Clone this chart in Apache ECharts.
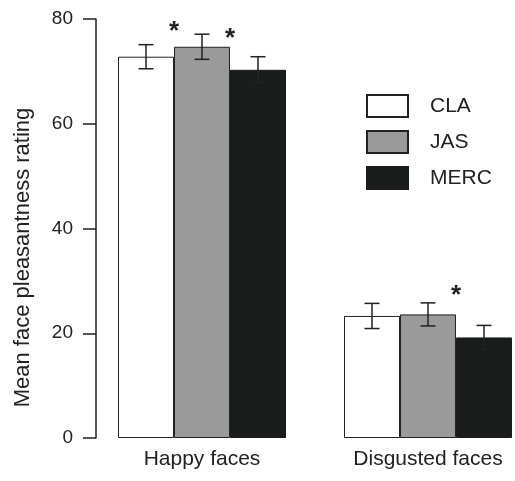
<!DOCTYPE html>
<html>
<head>
<meta charset="utf-8">
<script src="https://cdn.jsdelivr.net/npm/echarts@6/dist/echarts.min.js"></script>
<style>
  html, body { margin: 0; padding: 0; background: #fff; }
  #chart { width: 515px; height: 481px; }
</style>
</head>
<body>
<div id="chart"></div>
<script>
// data
const categories = ['Happy faces', 'Disgusted faces'];
const groups = ['CLA', 'JAS', 'MERC'];
const claMean = [72.8, 23.3];
const jasMean = [74.7, 23.6];
const mercMean = [70.3, 19.2];
const claErr = [2.3, 2.4];
const jasErr = [2.4, 2.2];
const mercErr = [2.5, 2.3];
// significance marks: [category, value, slot (0.5 = between CLA and JAS, 1.5 = between JAS and MERC)]
const stars = [[0, 78.5, 0.5], [0, 77.2, 1.5], [1, 28.1, 1.5]];

const FONT = 'Liberation Sans, Arial, sans-serif';
const INK = '#222';
const BAR_W = 56;
const CAP = 15;

const means = [claMean, jasMean, mercMean];
const errs = [claErr, jasErr, mercErr];
const fills = ['#ffffff', '#9a9a9a', '#1a1c1b'];
const borders = [INK, INK, '#1a1c1b'];

// error bar rows: [category, group index, low, high]
let errData = [];
for (let s = 0; s < groups.length; s++) {
  for (let c = 0; c < categories.length; c++) {
    errData.push([c, s, means[s][c] - errs[s][c], means[s][c] + errs[s][c]]);
  }
}

function renderError(params, api) {
  const cat = api.value(0);
  const s = api.value(1);
  const lo = api.coord([cat, api.value(2)]);
  const hi = api.coord([cat, api.value(3)]);
  const x = lo[0] + (s - 1) * BAR_W;
  const h = CAP / 2;
  const st = { stroke: INK, lineWidth: 1.5 };
  return {
    type: 'group',
    children: [
      { type: 'line', shape: { x1: x, y1: lo[1], x2: x, y2: hi[1] }, style: st },
      { type: 'line', shape: { x1: x - h, y1: hi[1], x2: x + h, y2: hi[1] }, style: st },
      { type: 'line', shape: { x1: x - h, y1: lo[1], x2: x + h, y2: lo[1] }, style: st }
    ]
  };
}

function renderStar(params, api) {
  const p = api.coord([api.value(0), api.value(1)]);
  const x = p[0] + (api.value(2) - 1) * BAR_W;
  return {
    type: 'text',
    x: x,
    y: p[1] + 5, // the glyph sits high in its box
    style: {
      text: '*',
      font: 'bold 26px ' + FONT,
      fill: INK,
      align: 'center',
      verticalAlign: 'middle'
    }
  };
}

let series = groups.map((g, i) => ({
  name: g,
  type: 'bar',
  data: means[i],
  barWidth: BAR_W,
  barGap: '0%',
  itemStyle: { color: fills[i], borderColor: borders[i], borderWidth: 1 },
  z: 2
}));
series.push({
  type: 'custom',
  renderItem: renderError,
  data: errData,
  z: 3,
  silent: true
});
series.push({
  type: 'custom',
  renderItem: renderStar,
  data: stars,
  z: 4,
  silent: true
});

const chart = echarts.init(document.getElementById('chart'));
chart.setOption({
  animation: false,
  textStyle: { fontFamily: FONT },
  grid: { left: 89, width: 452, top: 19, bottom: 43, containLabel: false, outerBoundsMode: 'none' },
  legend: {
    data: groups,
    orient: 'vertical',
    left: 361,
    top: 89,
    icon: 'rect',
    itemWidth: 41,
    itemHeight: 22,
    itemGap: 12,
    textStyle: { fontSize: 21, lineHeight: 22, color: INK, fontFamily: FONT, padding: [0, 0, 0, 17] }
  },
  xAxis: {
    type: 'category',
    data: categories,
    axisLine: { show: false },
    axisTick: { show: false },
    axisLabel: { fontSize: 21, color: INK, margin: 11, fontFamily: FONT }
  },
  yAxis: {
    type: 'value',
    min: 0,
    max: 80,
    interval: 20,
    offset: -7,
    name: 'Mean face pleasantness rating',
    nameLocation: 'middle',
    nameGap: 62,
    nameTextStyle: { fontSize: 22, color: INK, fontFamily: FONT, padding: [0, 58, 0, 0] },
    axisLine: { show: true, lineStyle: { color: INK, width: 1.5 } },
    axisTick: { show: true, length: 13, lineStyle: { color: INK, width: 1.5 } },
    axisLabel: { fontSize: 19, color: INK, margin: 23, fontFamily: FONT },
    splitLine: { show: false }
  },
  series: series
});
</script>
</body>
</html>
